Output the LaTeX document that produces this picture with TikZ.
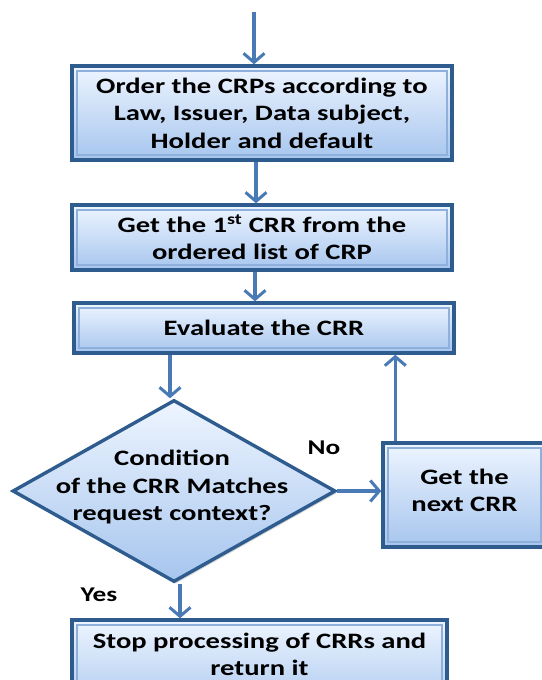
\documentclass[tikz,border=0pt]{standalone}
\usepackage{fontspec}
\setmainfont{Carlito}[FakeStretch=1.3]
\usetikzlibrary{arrows.meta,shapes.geometric,shadows}
\definecolor{edgeblue}{HTML}{2F5C8E}
\definecolor{bevelblue}{HTML}{8FB0DA}
\definecolor{filltop}{HTML}{EEF5FF}
\definecolor{fillbot}{HTML}{A6C5EE}
\definecolor{arrowblue}{HTML}{4A7AB6}
\tikzset{
  boxfont/.style={font=\fontsize{22}{27.5}\selectfont\bfseries},
  procbox/.style={draw=edgeblue, line width=3.4pt, top color=filltop, bottom color=fillbot,
    inner sep=0pt, align=center, boxfont,
    drop shadow={shadow xshift=2pt, shadow yshift=-2pt, opacity=0.35},
    path picture={\draw[bevelblue, line width=2pt]
      ([shift={(5pt,-5pt)}]path picture bounding box.north west) rectangle
      ([shift={(-5pt,5pt)}]path picture bounding box.south east);}},
  decision/.style={diamond, draw=edgeblue, line width=3.4pt,
    top color=filltop, bottom color=fillbot, inner sep=0pt,
    drop shadow={shadow xshift=2pt, shadow yshift=-2pt, opacity=0.35}},
  flow/.style={draw=arrowblue, line width=3.4pt, -{Straight Barb[length=9pt, width=21pt, line width=3pt]}},
  tag/.style={font=\fontsize{21}{25}\selectfont\bfseries}
}
\begin{document}
\begin{tikzpicture}[x=1pt, y=-1pt]
\useasboundingbox[fill=white] (0,0) rectangle (541,680);

\node[procbox, minimum width=380pt, minimum height=94pt] (order) at (262,113)
  {Order the CRPs according to\\Law, Issuer, Data subject,\\Holder and default};
\node[procbox, minimum width=380pt, minimum height=65pt] (first) at (262,237.5)
  {Get the 1\textsuperscript{st} CRR from the\\ordered list of CRP};
\node[procbox, minimum width=380pt, minimum height=50pt] (eval) at (264,328)
  {Evaluate the CRR};
% the question is wider than the diamond, so it is set as a centred label
\node[decision, minimum width=323pt, minimum height=182pt,
  label={[boxfont, align=center, xshift=-2pt, yshift=4pt]center:Condition\\of the CRR Matches\\request context?}]
  (cond) at (174,491) {};
\node[procbox, minimum width=163pt, minimum height=104pt] (next) at (464.5,495)
  {\mbox{}\\[-21pt]Get the\\next CRR};
% the last box runs past the lower edge; an empty last line lifts its text
\node[procbox, minimum width=375pt, minimum height=96pt] (stop) at (259.5,668)
  {Stop processing of CRRs and\\return it\\\mbox{}};

\coordinate (entry) at (254,12);
\draw[flow] (entry) -- (entry |- order.north);
\draw[flow] ([xshift=-6pt]order.south) -- ([xshift=-6pt]first.north);
\draw[flow] ([xshift=-7pt]first.south) -- ([xshift=-9pt]eval.north);
\draw[flow] ([xshift=-4pt]cond.north |- eval.south) -- ([xshift=-4pt]cond.north);
\draw[flow] (cond.east) -- (cond.east -| next.west);
\draw[flow] ([xshift=14pt]next.north west) -- ([xshift=14pt]next.north west |- eval.south);
\draw[flow] ([xshift=6pt]cond.south) -- ([xshift=6pt]cond.south |- stop.north);

\node[tag] (no) at (324,448) {No};
\node[tag] (yes) at (99,595) {Yes};
\end{tikzpicture}
\end{document}
